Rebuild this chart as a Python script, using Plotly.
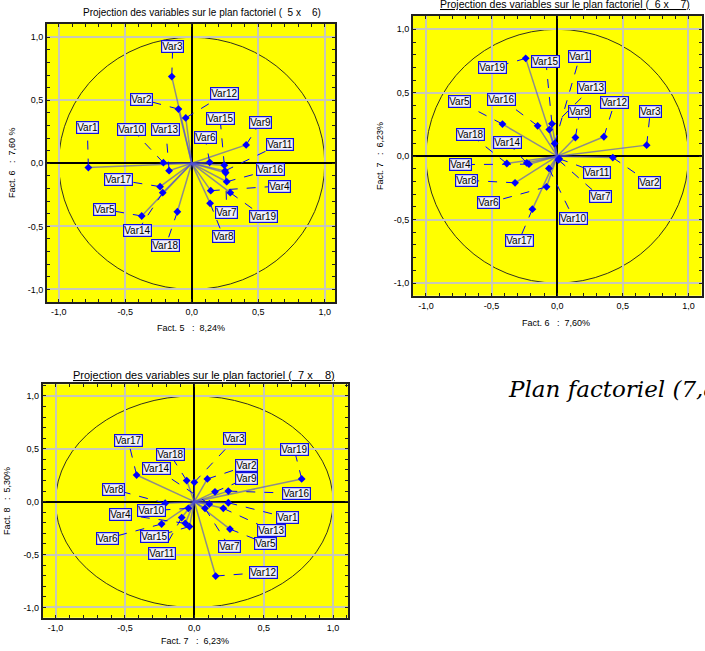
import plotly.graph_objects as go

VARS = ["Var1", "Var2", "Var3", "Var4", "Var5", "Var6", "Var7", "Var8", "Var9", "Var10",
        "Var11", "Var12", "Var13", "Var14", "Var15", "Var16", "Var17", "Var18", "Var19"]

# Plan 5 x 6 : coordinates of variables
f5_x = [-0.777, -0.10, -0.15, 0.143, -0.376, 0.135, 0.255, 0.138, 0.409, -0.213,
        0.25, -0.045, -0.17, -0.218, 0.245, 0.263, -0.238, -0.108, 0.29]
f6_y = [-0.034, 0.43, 0.688, -0.217, -0.418, 0.008, -0.075, -0.317, 0.146, 0.005,
        -0.06, 0.36, -0.058, -0.233, -0.015, -0.146, -0.185, -0.384, -0.233]
# label anchors (plan 5 x 6)
lab56_x = [-0.785, -0.376, -0.143, 0.66, -0.659, 0.10, 0.263, 0.238, 0.514, -0.451,
           0.664, 0.25, -0.195, -0.406, 0.213, 0.589, -0.551, -0.195, 0.539]
lab56_y = [0.286, 0.508, 0.926, -0.18, -0.365, 0.206, -0.389, -0.582, 0.323, 0.27,
           0.151, 0.55, 0.27, -0.534, 0.357, -0.053, -0.132, -0.653, -0.423]

# Plan 6 x 7
f6_x = [-0.02, 0.424, 0.682, -0.215, -0.417, -0.081, 0.01, -0.321, 0.139, -0.063,
        0.015, 0.356, -0.06, -0.232, -0.04, -0.149, -0.189, -0.384, -0.240]
f7_y = [0.10, -0.011, 0.087, -0.063, 0.253, -0.242, -0.03, -0.21, 0.147, -0.097,
        -0.02, 0.153, 0.21, -0.053, 0.255, 0.239, -0.418, -0.058, 0.771]
lab67_x = [0.172, 0.702, 0.71, -0.737, -0.745, -0.523, 0.328, -0.692, 0.172, 0.126,
           0.303, 0.437, 0.265, -0.376, -0.086, -0.422, -0.29, -0.662, -0.49]
lab67_y = [0.784, -0.21, 0.355, -0.066, 0.429, -0.368, -0.321, -0.19, 0.355, -0.492,
           -0.129, 0.421, 0.542, 0.105, 0.75, 0.45, -0.663, 0.171, 0.697]

# Plan 7 x 8
f7_x = [0.245, 0.094, 0.0, -0.065, 0.257, -0.236, 0.077, -0.21, 0.149, -0.043,
        -0.091, 0.154, 0.209, 0.108, -0.035, 0.245, -0.416, -0.055, 0.774]
f8_y = [-0.01, 0.215, 0.183, -0.205, -0.259, -0.211, -0.063, -0.015, 0.093, -0.063,
        -0.15, -0.703, -0.063, -0.022, -0.235, 0.10, 0.252, 0.20, 0.215]
lab78_x = [0.671, 0.377, 0.293, -0.531, 0.514, -0.625, 0.252, -0.584, 0.373, -0.308,
           -0.236, 0.498, 0.558, -0.276, -0.284, 0.733, -0.476, -0.175, 0.721]
lab78_y = [-0.151, 0.338, 0.593, -0.117, -0.394, -0.347, -0.426, 0.117, 0.218, -0.085,
           -0.489, -0.669, -0.274, 0.312, -0.331, 0.079, 0.574, 0.448, 0.489]

TICKS = [-1.0, -0.5, 0.0, 0.5, 1.0]
TICKTEXT = ["-1,0", "-0,5", "0,0", "0,5", "1,0"]

W, H = 705, 651

fig = go.Figure()


def add_panel(idx, xs, ys, lx, ly):
    xa = "x" if idx == 1 else f"x{idx}"
    ya = "y" if idx == 1 else f"y{idx}"
    vx, vy, dx, dy = [], [], [], []
    for a, b, c, d in zip(xs, ys, lx, ly):
        vx += [0, a, None]
        vy += [0, b, None]
        dx += [a, c, None]
        dy += [b, d, None]
    fig.add_trace(go.Scatter(x=vx, y=vy, mode="lines", xaxis=xa, yaxis=ya,
                             line=dict(color="rgba(80,80,210,0.65)", width=1.5),
                             hoverinfo="skip", showlegend=False))
    fig.add_trace(go.Scatter(x=dx, y=dy, mode="lines", xaxis=xa, yaxis=ya,
                             line=dict(color="#0000FF", width=1, dash="dash"),
                             hoverinfo="skip", showlegend=False))
    fig.add_trace(go.Scatter(x=xs, y=ys, mode="markers", xaxis=xa, yaxis=ya,
                             marker=dict(symbol="diamond", size=6, color="#0000FF"),
                             text=VARS, showlegend=False))
    for name, c, d in zip(VARS, lx, ly):
        fig.add_annotation(x=c, y=d, xref=xa, yref=ya, text=name, showarrow=False,
                           font=dict(family="Arial, Liberation Sans", size=10, color="black"),
                           bgcolor="#F0F0F8", bordercolor="#1010E0", borderwidth=1.2,
                           borderpad=0)
    fig.add_shape(type="circle", xref=xa, yref=ya, x0=-1, y0=-1, x1=1, y1=1,
                  line=dict(color="#303020", width=1), layer="below")


add_panel(1, f5_x, f6_y, lab56_x, lab56_y)
add_panel(2, f6_x, f7_y, lab67_x, lab67_y)
add_panel(3, f7_x, f8_y, lab78_x, lab78_y)


def axis_style(domain, rng, anchor):
    return dict(domain=domain, range=rng, anchor=anchor, tickvals=TICKS, ticktext=TICKTEXT,
                showgrid=True, gridcolor="#C8C8B8", gridwidth=1.5,
                zeroline=True, zerolinecolor="black", zerolinewidth=1.5,
                showline=True, mirror="allticks", linecolor="#202020", linewidth=2,
                ticks="inside", ticklen=3, tickcolor="#202020",
                minor=dict(ticks="inside", ticklen=3, dtick=0.1, tickcolor="#202020",
                           showgrid=False),
                tickfont=dict(family="Arial, Liberation Sans", size=9, color="black"),
                fixedrange=True)


def dom_x(a, b):
    return [a / W, b / W]


def dom_y(top, bottom):
    return [1 - bottom / H, 1 - top / H]


fig.update_layout(
    xaxis=axis_style(dom_x(47, 335), [-1.088, 1.077], "y"),
    yaxis=axis_style(dom_y(24, 302), [-1.10, 1.105], "x"),
    xaxis2=axis_style(dom_x(413, 701.5), [-1.099, 1.10], "y2"),
    yaxis2=axis_style(dom_y(16, 295.7), [-1.10, 1.105], "x2"),
    xaxis3=axis_style(dom_x(42.7, 348.3), [-1.093, 1.11], "y3"),
    yaxis3=axis_style(dom_y(384.3, 617.7), [-1.097, 1.11], "x3"),
)

small = dict(family="Arial, Liberation Sans", size=9, color="black")


def paper_text(px, py, text, angle=0, font=small, xanchor="center"):
    fig.add_annotation(x=px / W, y=1 - py / H, xref="paper", yref="paper", text=text,
                       showarrow=False, textangle=angle, font=font, xanchor=xanchor,
                       yanchor="middle")


paper_text(202, 13, "Projection des variables sur le plan factoriel (  5 x    6)",
           font=dict(family="Arial, Liberation Sans", size=10, color="black"))
paper_text(565, 4, "<u>Projection des variables sur le plan factoriel (  6 x    7)</u>",
           font=dict(family="Arial, Liberation Sans", size=10.5, color="black"))
paper_text(204, 375, "<u>Projection des variables sur le plan factoriel (  7 x    8)</u>",
           font=dict(family="Arial, Liberation Sans", size=11, color="black"))

paper_text(191, 328, "Fact. 5   :  8,24%")
paper_text(12, 163, "Fact. 6   :  7,60 %", angle=-90)
paper_text(556, 323, "Fact. 6   :  7,60%")
paper_text(380, 156, "Fact. 7   :  6,23%", angle=-90)
paper_text(195, 641, "Fact. 7   :  6,23%")
paper_text(7, 501, "Fact. 8   :  5,30%", angle=-90)

paper_text(506, 389, "<i>Plan factoriel (7,8)</i>",
           font=dict(family="DejaVu Serif", size=23, color="black"), xanchor="left")

fig.update_layout(width=W, height=H, margin=dict(l=0, r=0, t=0, b=0),
                  paper_bgcolor="white", plot_bgcolor="#FFFF00", showlegend=False)

fig.write_html("out.html", config={"displayModeBar": False},
               post_script="document.body.style.margin='0';")
